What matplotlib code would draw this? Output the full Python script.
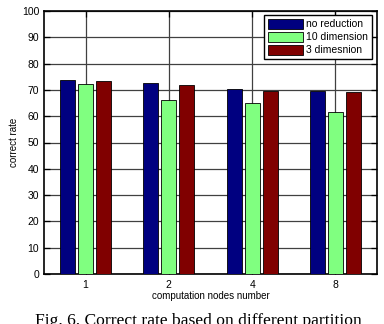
import numpy as np
from matplotlib import pyplot as plt

plt.rcParams['font.family'] = 'Liberation Sans'

nodes = ['1', '2', '4', '8']
no_reduction = [73.9, 72.7, 70.3, 69.5]
dim10 = [72.1, 66.0, 64.9, 61.6]
dim3 = [73.3, 71.9, 69.6, 69.2]
series_names = ['no reduction', '10 dimension', '3 dimesnion']
yticks = [0, 10, 20, 30, 40, 50, 60, 70, 80, 90, 100]

fig = plt.figure(figsize=(3.84, 3.24), dpi=100)
ax = fig.add_axes([44/384, 1 - 274/324, 333/384, 263/324])

x = np.arange(1, len(nodes) + 1)
w = 0.18
off = 0.215
ax.bar(x - off, no_reduction, w, color='#000080', edgecolor='black', linewidth=0.6, label=series_names[0], zorder=3)
ax.bar(x, dim10, w, color='#80ff80', edgecolor='black', linewidth=0.6, label=series_names[1], zorder=3)
ax.bar(x + off, dim3, w, color='#800000', edgecolor='black', linewidth=0.6, label=series_names[2], zorder=3)

ax.set_xlim(0.5, 4.5)
ax.set_ylim(0, 100)
ax.set_xticks(x)
ax.set_xticklabels(nodes)
ax.set_yticks(yticks)
ax.grid(True, color='#404040', linewidth=0.9, zorder=0)
ax.tick_params(direction='in', length=4, labelsize=7.5, top=True, right=True, width=0.9)
ax.tick_params(axis='x', pad=4)
for s in ax.spines.values():
    s.set_linewidth(1.2)

ax.set_xlabel('computation nodes number', fontsize=7, labelpad=1)
ax.set_ylabel('correct rate', fontsize=7, labelpad=2)

leg = ax.legend(loc='upper right', fontsize=7.5, frameon=True, fancybox=False,
                edgecolor='black', framealpha=1, handlelength=3.4, handleheight=1.1,
                handletextpad=0.3, labelspacing=0.25, borderpad=0.35,
                bbox_to_anchor=(0.985, 0.985), borderaxespad=0)
leg.get_frame().set_linewidth(1.0)

fig.text(35/384, 3/324, 'Fig. 6. Correct rate based on different partition',
         family='Liberation Serif', fontsize=12.6, va='center', ha='left')

fig.savefig('out.png', dpi=100)
